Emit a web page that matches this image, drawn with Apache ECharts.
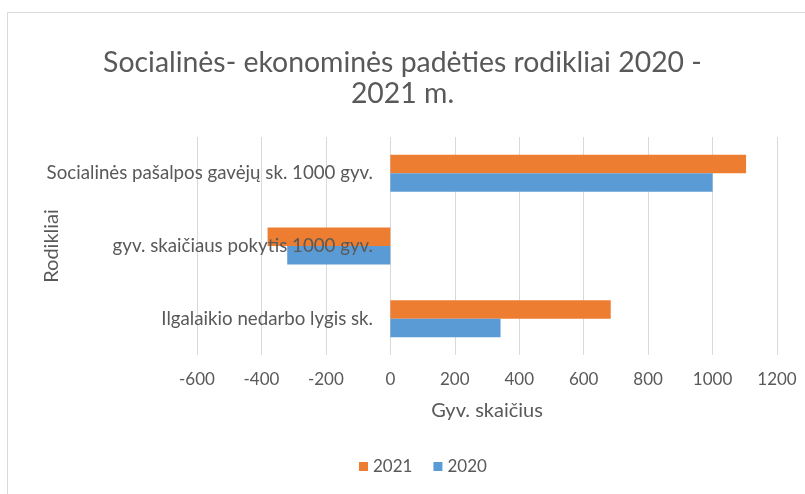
<!DOCTYPE html>
<html>
<head>
<meta charset="utf-8">
<script src="https://cdn.jsdelivr.net/npm/echarts@6/dist/echarts.min.js"></script>
<style>
  html, body { margin: 0; padding: 0; background: #fff; }
  #chart { width: 805px; height: 494px; }
</style>
</head>
<body>
<div id="chart"></div>
<script>
// rodikliai (apacioj -> virsuj, kaip ECharts kategoriju asis)
var categories = ['Ilgalaikio nedarbo lygis sk.', 'gyv. skaičiaus pokytis 1000 gyv.', 'Socialinės pašalpos gavėjų sk. 1000 gyv.'];
var values2020 = [342, -320, 1000];
var values2021 = [684, -381, 1104];
var seriesNames = ['2021', '2020'];

var chart = echarts.init(document.getElementById('chart'));

var textColor = '#595959';
var font = 'Lato, "Open Sans", sans-serif';

var option = {
    animation: false,
    textStyle: { fontFamily: font },
    title: {
        text: 'Socialinės- ekonominės padėties rodikliai 2020 -\n2021 m.',
        left: 'center',
        top: 42,
        textStyle: {
            fontFamily: font,
            fontSize: 28.4,
            fontWeight: 'normal',
            color: textColor,
            lineHeight: 31
        }
    },
    graphic: [{
        type: 'rect',
        shape: { x: 7.5, y: 12.5, width: 810, height: 500 },
        style: { fill: 'none', stroke: '#d9d9d9', lineWidth: 1 },
        silent: true
    }],
    legend: {
        data: seriesNames,
        bottom: 14,
        left: 354,
        itemWidth: 9,
        itemHeight: 9,
        itemGap: 21,
        icon: 'rect',
        textStyle: { fontFamily: font, fontSize: 17, color: textColor }
    },
    grid: {
        left: 197,
        right: 28,
        top: 137,
        bottom: 139,
        outerBoundsMode: 'none',
        containLabel: false
    },
    xAxis: {
        type: 'value',
        min: -600,
        max: 1200,
        interval: 200,
        name: 'Gyv. skaičius',
        nameLocation: 'middle',
        nameGap: 46,
        nameTextStyle: { fontFamily: font, fontSize: 20, color: textColor },
        axisLine: { show: false },
        axisTick: { show: false },
        axisLabel: {
            fontFamily: font, fontSize: 17, color: textColor, margin: 16,
            formatter: function (v) { return String(v); }
        },
        splitLine: { lineStyle: { color: '#d9d9d9' } }
    },
    yAxis: {
        type: 'category',
        data: categories,
        offset: -193,
        z: 5,
        name: 'Rodikliai',
        nameLocation: 'middle',
        nameGap: 328,
        nameMoveOverlap: false,
        nameRotate: 90,
        nameTextStyle: { fontFamily: font, fontSize: 20, color: textColor },
        axisLine: { show: false },
        axisTick: { show: false },
        axisLabel: { fontFamily: font, fontSize: 18.7, color: textColor, margin: 17 }
    },
    series: [{
        name: '2021',
        type: 'bar',
        data: values2021,
        barGap: '0%',
        barCategoryGap: '49%',
        itemStyle: { color: '#ed7d31' }
    }, {
        name: '2020',
        type: 'bar',
        data: values2020,
        barGap: '0%',
        barCategoryGap: '49%',
        itemStyle: { color: '#5b9bd5' }
    }]
};

chart.setOption(option);
</script>
</body>
</html>
